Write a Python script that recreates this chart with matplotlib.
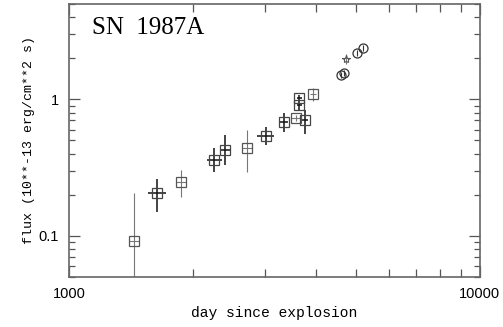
import numpy as np
import matplotlib
matplotlib.use("Agg")
import matplotlib.pyplot as plt
from matplotlib.ticker import LogLocator, NullFormatter, FixedLocator, FixedFormatter

# --- data ---
# points with thin grey error bars (squares)
day_a = [1439, 1873, 2711, 3566, 3929]
flux_a = [0.092, 0.25, 0.442, 0.728, 1.10]
flux_a_lo = [0.03, 0.192, 0.296, 0.69, 0.967]
flux_a_hi = [0.205, 0.306, 0.596, 0.77, 1.22]
day_a_lo = [1400, 1820, 2640, 3480, 3860]
day_a_hi = [1480, 1930, 2790, 3650, 4000]

# points with dark error bars (squares)
day_b = [1637, 2255, 2398, 3010, 3335, 3631, 3631, 3750]
flux_b = [0.205, 0.361, 0.427, 0.54, 0.68, 1.017, 0.905, 0.704]
flux_b_lo = [0.149, 0.296, 0.332, 0.464, 0.577, 0.96, 0.82, 0.557]
flux_b_hi = [0.263, 0.442, 0.548, 0.627, 0.792, 1.07, 0.96, 0.832]
day_b_lo = [1556, 2167, 2330, 2867, 3260, 3580, 3580, 3690]
day_b_hi = [1722, 2357, 2470, 3153, 3420, 3690, 3690, 3820]

# circles (late epochs)
day_c = [4600, 4680, 5012, 5184]
flux_c = [1.50, 1.55, 2.18, 2.39]

# star
day_s = [4712]
flux_s = [1.97]
flux_s_lo = [1.82]
flux_s_hi = [2.15]

fig = plt.figure(figsize=(5.03, 3.27), dpi=100)
ax = fig.add_axes([0.137, 0.153, 0.817, 0.835])

def asym(v, lo, hi):
    v = np.array(v); return [v - np.array(lo), np.array(hi) - v]

ax.errorbar(day_a, flux_a, yerr=asym(flux_a, flux_a_lo, flux_a_hi),
            xerr=asym(day_a, day_a_lo, day_a_hi), fmt='s', ms=6.5,
            mfc='none', mec='#555555', mew=0.9, ecolor='#777777', elinewidth=0.8, capsize=0)
ax.errorbar(day_b, flux_b, yerr=asym(flux_b, flux_b_lo, flux_b_hi),
            xerr=asym(day_b, day_b_lo, day_b_hi), fmt='s', ms=6.5,
            mfc='none', mec='#444444', mew=0.9, ecolor='#111111', elinewidth=1.1, capsize=0)
ax.plot(day_c, flux_c, 'o', ms=6.5, mfc='none', mec='#333333', mew=0.9)
ax.plot(day_c, flux_c, '|', ms=4, mec='#333333', mew=0.8)
ax.errorbar(day_s, flux_s, yerr=asym(flux_s, flux_s_lo, flux_s_hi), fmt='*', ms=6,
            mfc='none', mec='#555555', mew=0.8, ecolor='#777777', elinewidth=0.8, capsize=0)

ax.set_xscale('log')
ax.set_yscale('log')
ax.set_xlim(1000, 10000)
ax.set_ylim(0.05, 5)

ax.xaxis.set_major_locator(FixedLocator([1000, 10000]))
ax.xaxis.set_major_formatter(FixedFormatter(['1000', '10000']))
ax.xaxis.set_minor_locator(LogLocator(base=10, subs=np.arange(2, 10)))
ax.xaxis.set_minor_formatter(NullFormatter())
ax.yaxis.set_major_locator(FixedLocator([0.1, 1]))
ax.yaxis.set_major_formatter(FixedFormatter(['0.1', '1']))
ax.yaxis.set_minor_locator(LogLocator(base=10, subs=np.arange(2, 10)))
ax.yaxis.set_minor_formatter(NullFormatter())

ax.tick_params(which='both', direction='in', top=True, right=True, color='#555555', width=0.9)
ax.tick_params(which='major', length=8, labelsize=10.5, pad=7)
ax.tick_params(axis='x', which='minor', length=6)
ax.tick_params(axis='y', which='minor', length=4)
for lab in ax.get_xticklabels() + ax.get_yticklabels():
    lab.set_family('Liberation Sans')
for s in ax.spines.values():
    s.set_color('#666666')
    s.set_linewidth(1.2)

ax.set_xlabel('day since explosion', family='Liberation Mono', fontsize=10.5, labelpad=4)
ax.set_ylabel('flux (10**-13 erg/cm**2 s)', family='Liberation Mono', fontsize=9.5, labelpad=3)
ax.text(0.055, 0.91, 'SN  1987A', transform=ax.transAxes, family='Liberation Serif',
        fontsize=18, va='center', ha='left')

fig.savefig('out.png', dpi=100)
